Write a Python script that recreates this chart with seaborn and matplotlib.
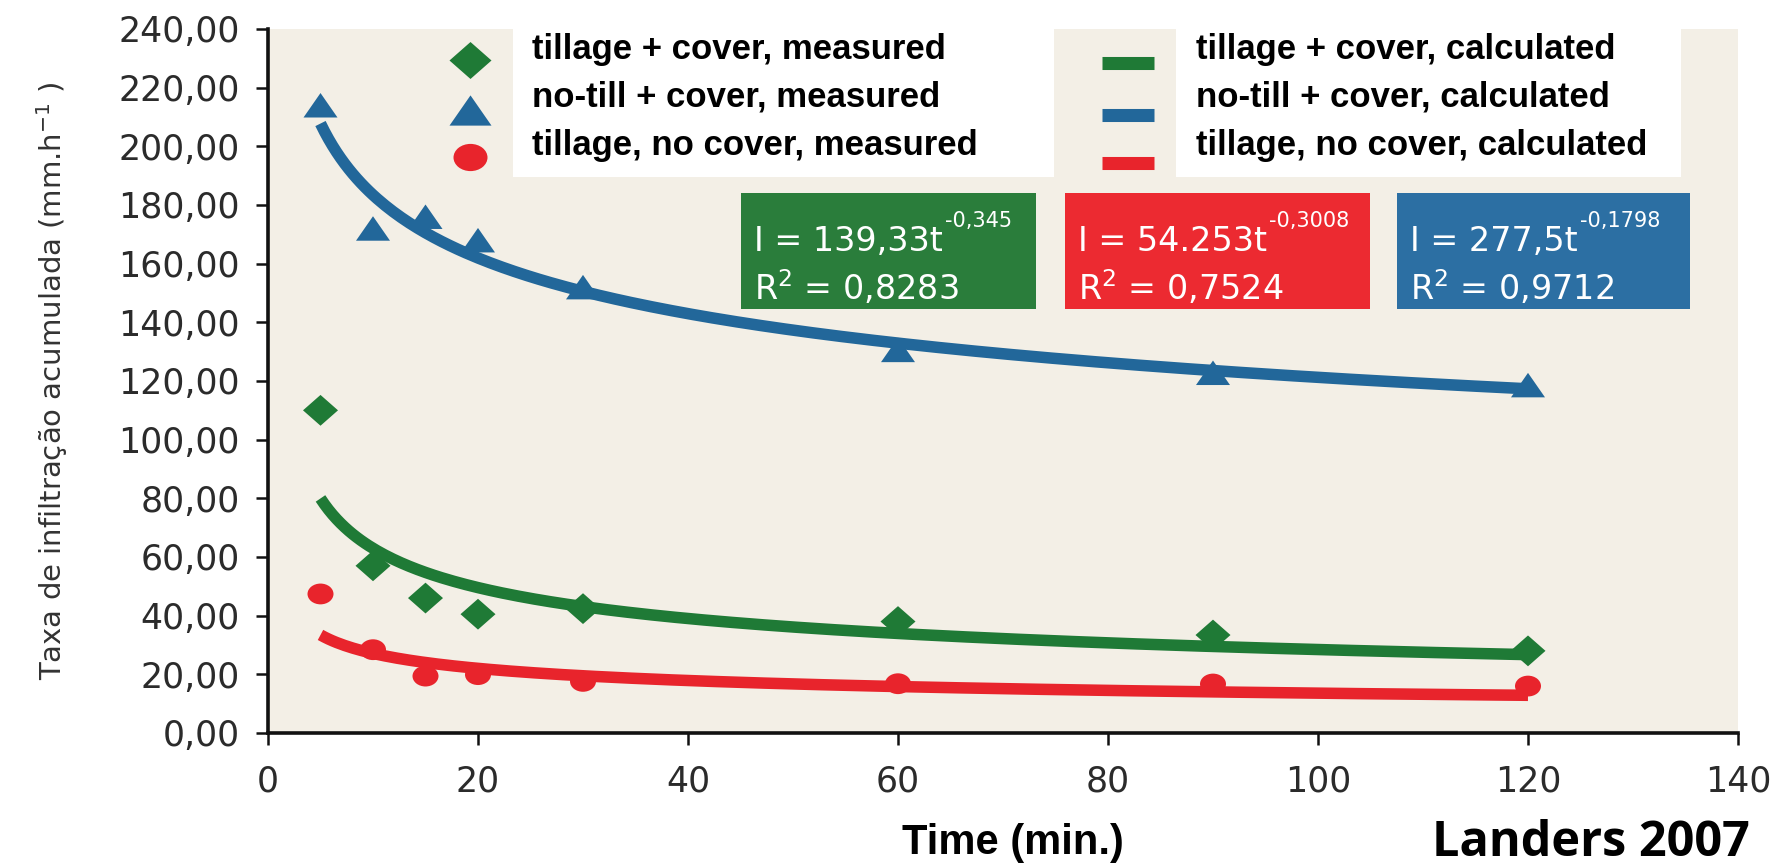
import numpy as np
import matplotlib
matplotlib.use("Agg")
import matplotlib.pyplot as plt
from matplotlib.path import Path
from matplotlib.patches import Rectangle
from matplotlib.lines import Line2D
from matplotlib import font_manager
import seaborn as sns

# ---------------- data ----------------
time_min = [5, 10, 15, 20, 30, 60, 90, 120]
tillage_cover = [110, 57, 46, 40.5, 42.4, 38, 33.4, 28]
notill_cover = [214, 172, 176, 168, 152, 130.6, 122.8, 118.6]
tillage_nocover = [47.4, 28.4, 19.4, 19.9, 17.6, 16.8, 16.7, 16]

measured_labels = ["tillage + cover, measured", "no-till + cover, measured",
                   "tillage, no cover, measured"]
calculated_labels = ["tillage + cover, calculated", "no-till + cover, calculated",
                     "tillage, no cover, calculated"]

# fitted power laws I = a * t^b (as printed on the chart)
fit_a = [139.33, 277.5, 54.253]          # tillage+cover, no-till+cover, tillage no cover
fit_b = [-0.345, -0.1798, -0.3008]
fit_t_range = [5, 120]
eq_coef_text = ["139,33", "54.253", "277,5"]      # box order: green, red, blue
eq_exp_text = ["-0,345", "-0,3008", "-0,1798"]
eq_r2_text = ["0,8283", "0,7524", "0,9712"]

y_ticks = [0, 20, 40, 60, 80, 100, 120, 140, 160, 180, 200, 220, 240]
x_ticks = [0, 20, 40, 60, 80, 100, 120, 140]

# ---------------- style ----------------
W, H = 1787, 865
GREEN = "#1f7a36"
BLUE = "#22679a"
RED = "#e8242c"
BOX_GREEN = "#2a7d3b"
BOX_RED = "#ec2a31"
BOX_BLUE = "#2c6fa3"
BEIGE = "#f3efe6"
TICK_COL = "#2b2b2b"

sns.set_theme(style="white")
avail = {f.name for f in font_manager.fontManager.ttflist}
plt.rcParams["font.family"] = ["DejaVu Sans"]
LEG_FONT = "Liberation Sans" if "Liberation Sans" in avail else "DejaVu Sans"
LAND_FONT = "Open Sans" if "Open Sans" in avail else "DejaVu Sans"


def fx(x):
    return x / W


def fy(y):
    return 1 - y / H


fig = plt.figure(figsize=(W / 100, H / 100), dpi=100, facecolor="white")
ax = fig.add_axes([fx(268), fy(733), (1738 - 268) / W, (733 - 29) / H])
ax.set_facecolor(BEIGE)

# marker shapes (horizontally wide, as in the scanned original)
tri = Path([(-1, -0.72), (1, -0.72), (0, 0.72), (-1, -0.72)],
           [Path.MOVETO, Path.LINETO, Path.LINETO, Path.CLOSEPOLY])
dia = Path([(-1, 0), (0, 0.88), (1, 0), (0, -0.88), (-1, 0)],
           [Path.MOVETO, Path.LINETO, Path.LINETO, Path.LINETO, Path.CLOSEPOLY])
uc = Path.unit_circle()
ell = Path(uc.vertices * np.array([1.0, 0.8]), uc.codes)

# fitted curves
tgrid = np.linspace(fit_t_range[0], fit_t_range[1], 300)
for a, b, col in zip(fit_a, fit_b, [GREEN, BLUE, RED]):
    sns.lineplot(x=tgrid, y=a * tgrid ** b, color=col, lw=8.3, ax=ax,
                 zorder=2, solid_capstyle="butt")

# measured points
sns.scatterplot(x=time_min, y=tillage_cover, marker=dia, s=(35 / 1.389) ** 2,
                color=GREEN, edgecolor="none", linewidth=0, ax=ax, zorder=3)
sns.scatterplot(x=time_min, y=notill_cover, marker=tri, s=(34 / 1.389) ** 2,
                color=BLUE, edgecolor="none", linewidth=0, ax=ax, zorder=3)
sns.scatterplot(x=time_min, y=tillage_nocover, marker=ell, s=(26 / 1.389) ** 2,
                color=RED, edgecolor="none", linewidth=0, ax=ax, zorder=3)

ax.set_xlim(0, 140)
ax.set_ylim(0, 240)
ax.set_xticks(x_ticks, [str(v) for v in x_ticks])
ax.set_yticks(y_ticks, [f"{v:.2f}".replace(".", ",") for v in y_ticks])
for s in ["top", "right"]:
    ax.spines[s].set_visible(False)
for s in ["left", "bottom"]:
    ax.spines[s].set_color("#111111")
    ax.spines[s].set_linewidth(2.6)
ax.tick_params(axis="both", direction="out", length=8.6, width=1.8,
               color="#111111", labelsize=25, labelcolor=TICK_COL)
ax.tick_params(axis="y", pad=12, left=True)
ax.tick_params(axis="x", pad=14, bottom=True)

ax.set_ylabel("Taxa de infiltração acumulada (mm.h$^{-1}$ )", fontsize=21,
              color="#333333")
ax.yaxis.set_label_coords((70 - 268) / (1738 - 268), 0.5)
ax.set_xlabel("Time (min.)", fontsize=30, fontweight="bold", color="black",
              family=[LEG_FONT, "DejaVu Sans"])
ax.xaxis.set_label_coords((1013 - 268) / (1738 - 268), (733 - 843) / (733 - 29))
ax.xaxis.label.set_va("center")

fig.text(fx(1750), fy(843), "Landers 2007", ha="right", va="center",
         fontsize=35, fontweight="bold", color="black",
         family=[LAND_FONT, "DejaVu Sans"])

# ---------------- legend (white boxes over the original legend) ----------------
for (x0, x1) in [(513, 1054), (1176, 1681)]:
    fig.add_artist(Rectangle((fx(x0), fy(177)), (x1 - x0) / W, (177 - 28) / H,
                             transform=fig.transFigure, facecolor="white",
                             edgecolor="none", zorder=5))
row_y = [49, 97, 145]
for lab, yy in zip(measured_labels, row_y):
    fig.text(fx(532), fy(yy), lab, ha="left", va="center", fontsize=25,
             fontweight="bold", color="black", family=[LEG_FONT, "DejaVu Sans"],
             zorder=6)
for lab, yy in zip(calculated_labels, row_y):
    fig.text(fx(1196), fy(yy), lab, ha="left", va="center", fontsize=25,
             fontweight="bold", color="black", family=[LEG_FONT, "DejaVu Sans"],
             zorder=6)

leg_markers = [(dia, GREEN, 42, 60), (tri, BLUE, 42, 110), (ell, RED, 34, 157)]
for mk, col, size_px, yy in leg_markers:
    fig.add_artist(Line2D([fx(470)], [fy(yy)], transform=fig.transFigure,
                          marker=mk, markersize=size_px / 1.389, color=col,
                          markeredgewidth=0, linestyle="none", zorder=6))
for col, yy in zip([GREEN, BLUE, RED], [63, 115, 163]):
    fig.add_artist(Line2D([fx(1102), fx(1154)], [fy(yy), fy(yy)],
                          transform=fig.transFigure, color=col, lw=9.4,
                          solid_capstyle="butt", zorder=6))

# ---------------- equation boxes ----------------
boxes = [(741, 1036, BOX_GREEN), (1065, 1370, BOX_RED), (1397, 1690, BOX_BLUE)]
fig.canvas.draw()
renderer = fig.canvas.get_renderer()
for (x0, x1, col), coef, ex, r2 in zip(boxes, eq_coef_text, eq_exp_text, eq_r2_text):
    fig.add_artist(Rectangle((fx(x0), fy(309)), (x1 - x0) / W, (309 - 193) / H,
                             transform=fig.transFigure, facecolor=col,
                             edgecolor="none", zorder=5))
    t1 = fig.text(fx(x0 + 13), fy(251), f"I = {coef}t", ha="left", va="baseline",
                  fontsize=24, color="white", zorder=6)
    bb = t1.get_window_extent(renderer)
    fig.text(bb.x1 / W + 2 / W, fy(227), ex, ha="left", va="baseline",
             fontsize=15, color="white", zorder=6)
    fig.text(fx(x0 + 13), fy(300), "R$^{2}$ = " + r2, ha="left", va="baseline",
             fontsize=24, color="white", zorder=6)

fig.savefig("out.png", dpi=100, facecolor="white")
